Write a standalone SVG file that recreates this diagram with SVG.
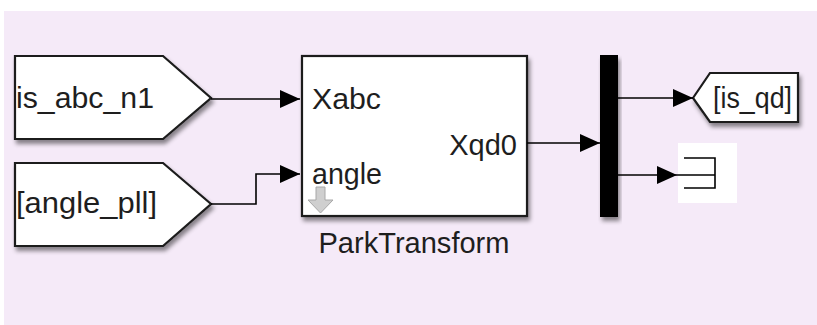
<svg xmlns="http://www.w3.org/2000/svg" width="817" height="325" viewBox="0 0 817 325">
  <defs>
    <filter id="shadow" x="-10%" y="-10%" width="130%" height="140%">
      <feDropShadow dx="2" dy="4" stdDeviation="2" flood-color="#000" flood-opacity="0.45"/>
    </filter>
    <marker id="arrow" markerWidth="20" markerHeight="18" refX="20" refY="9" orient="auto" markerUnits="userSpaceOnUse">
      <path d="M0,0 L20,9 L0,18 Z" fill="#000"/>
    </marker>
  </defs>
  <style>
    .blk { fill: #fff; stroke: #1a1a1a; stroke-width: 2.2; filter: url(#shadow); }
    .lbl { font-family: "Liberation Sans", Arial, sans-serif; font-size: 29px; fill: #1e1e1e; }
    .wire { fill: none; stroke: #000; stroke-width: 1.6; }
  </style>

  <!-- canvas -->
  <rect x="0" y="0" width="817" height="325" fill="#fff"/>
  <rect x="4" y="11" width="813" height="314" fill="#F5EAF8"/>

  <!-- From block: is_abc_n1 -->
  <g id="from_is_abc_n1">
    <polygon class="blk" points="15,56 163,56 211,98 163,139 15,139"/>
    <text class="lbl" x="16" y="108" textLength="138" lengthAdjust="spacingAndGlyphs">is_abc_n1</text>
  </g>

  <!-- From block: angle_pll -->
  <g id="from_angle_pll">
    <polygon class="blk" points="15,163 163,163 211,204 163,246 15,246"/>
    <text class="lbl" x="16" y="213" textLength="141" lengthAdjust="spacingAndGlyphs">[angle_pll]</text>
  </g>

  <!-- Park transform subsystem -->
  <g id="park_transform">
    <rect class="blk" x="302" y="56" width="225" height="160"/>
    <text class="lbl" x="312" y="109" textLength="69" lengthAdjust="spacingAndGlyphs">Xabc</text>
    <text class="lbl" x="312" y="184" textLength="70" lengthAdjust="spacingAndGlyphs">angle</text>
    <text class="lbl" x="517" y="155" text-anchor="end">Xqd0</text>
    <!-- masked-subsystem indicator -->
    <path d="M316,187 H325 V200 H333 L320.5,213 L308,200 H316 Z" fill="#cfcfcf" stroke="#a8a8a8" stroke-width="1"/>
    <text class="lbl" x="414" y="253" text-anchor="middle" textLength="191" lengthAdjust="spacingAndGlyphs">ParkTransform</text>
  </g>

  <!-- Bus selector -->
  <g id="bus_selector">
    <rect x="600" y="55" width="18" height="162" fill="#000" filter="url(#shadow)"/>
  </g>

  <!-- Goto block: is_qd -->
  <g id="goto_is_qd">
    <polygon class="blk" points="693,98 710,73 798,73 798,122 710,122"/>
    <text class="lbl" x="713" y="108" textLength="79" lengthAdjust="spacingAndGlyphs">[is_qd]</text>
  </g>

  <!-- Terminator -->
  <g id="terminator">
    <rect x="678" y="143" width="59" height="60" fill="#fff"/>
    <path d="M684,158 H715 V188 H684 M677,175 H715" fill="none" stroke="#000" stroke-width="1.6"/>
  </g>

  <!-- Signal lines -->
  <g id="connectors">
    <path class="wire" d="M211,99 H300" marker-end="url(#arrow)"/>
    <path class="wire" d="M211,204 H256 V174 H300" marker-end="url(#arrow)"/>
    <path class="wire" d="M527,143 H600" marker-end="url(#arrow)"/>
    <path class="wire" d="M618,98 H693" marker-end="url(#arrow)"/>
    <path class="wire" d="M618,175 H677" marker-end="url(#arrow)"/>
  </g>
</svg>
